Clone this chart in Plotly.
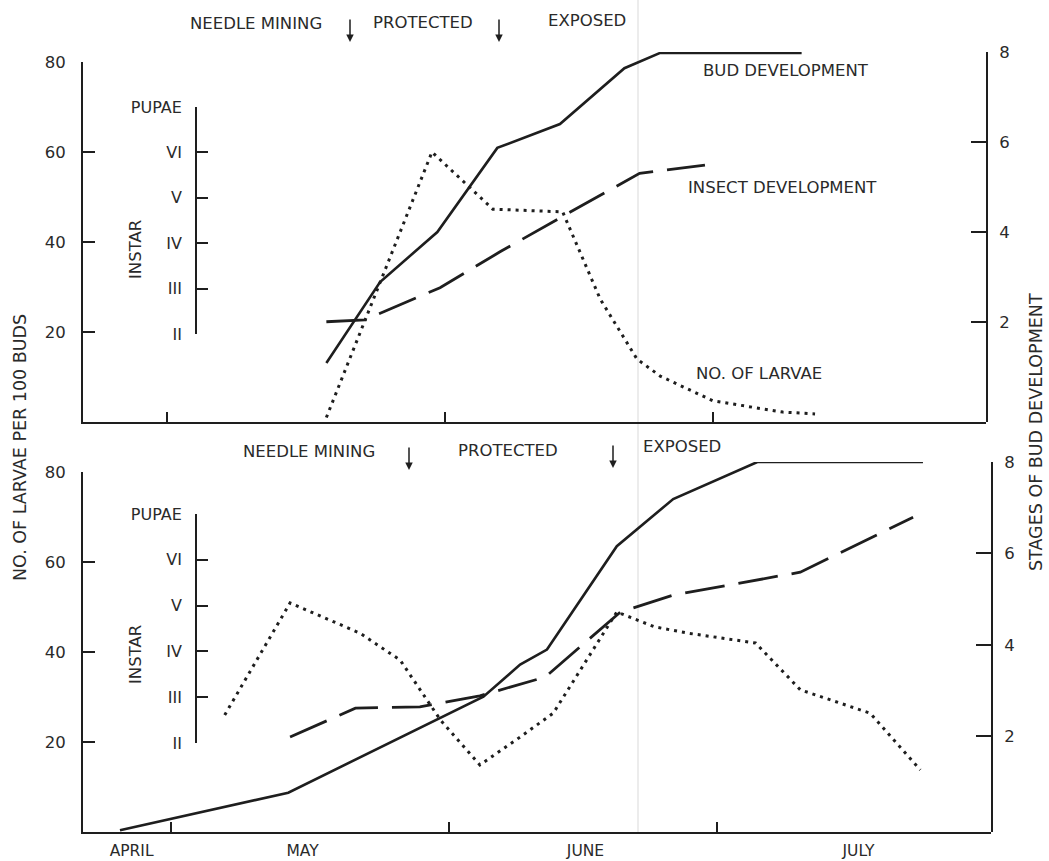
import plotly.graph_objects as go

W, H = 1049, 861
def fx(px): return px / W
def fy(py): return 1 - py / H

# ---------------- data (x = days from May 1) ----------------
# Top panel
top_bud_days = [17.8, 23.8, 30.2, 36.9, 43.9, 51.1, 55.1, 70.9]
top_bud_stage = [1.09, 2.89, 4.0, 5.87, 6.4, 7.64, 7.98, 7.98]
top_insect_days = [17.8, 22.1, 30.5, 37.2, 45.0, 52.8, 60.1]
top_insect_instar = [2.27, 2.31, 3.02, 3.81, 4.68, 5.54, 5.72]
top_larvae_days = [17.8, 29.6, 36.4, 44.2, 48.4, 52.5, 55.1, 61.0, 68.8, 72.4]
top_larvae = [1.0, 60.0, 47.3, 46.7, 27.3, 14.0, 10.2, 4.7, 2.2, 1.8]

# Bottom panel
bot_bud_days = [-5.7, 13.1, 34.9, 39.0, 42.0, 49.8, 56.1, 65.5, 84.0]
bot_bud_stage = [-0.05, 0.77, 2.87, 3.57, 3.9, 6.16, 7.19, 8.0, 8.0]
bot_insect_days = [13.3, 19.4, 20.6, 27.8, 34.5, 41.8, 50.2, 56.1, 70.3, 82.9]
bot_insect_instar = [2.13, 2.66, 2.76, 2.79, 3.03, 3.44, 4.86, 5.23, 5.73, 6.93]
bot_larvae_days = [6.0, 13.3, 21.1, 25.6, 30.1, 34.5, 39.0, 42.7, 49.8, 54.0, 57.7, 65.3, 70.3, 78.1, 83.7]
bot_larvae = [26.0, 50.9, 44.2, 38.2, 24.9, 14.9, 21.1, 26.4, 48.9, 45.6, 44.2, 42.0, 31.6, 26.4, 13.8]

larvae_ticks = [20, 40, 60, 80]
stage_ticks = [2, 4, 6, 8]
instar_vals = [2, 3, 4, 5, 6, 7]
instar_text = ["II", "III", "IV", "V", "VI", "PUPAE"]
month_boundaries = [0, 31, 61]
month_label_pos = [-4.4, 14.7, 46.3, 76.8]
month_labels = ["APRIL", "MAY", "JUNE", "JULY"]

INK = "#1e1e1e"
TXT = "#2a2a2a"
FONT = "DejaVu Sans"
FS = 16.5
SOLID = dict(color=INK, width=2.6)
DASHED = dict(color=INK, width=2.8, dash="40px,14px")
DOTTED = dict(color=INK, width=3, dash="3px,5px")

fig = go.Figure()
# top panel
fig.add_trace(go.Scatter(x=top_larvae_days, y=top_larvae, mode="lines", line=DOTTED, xaxis="x", yaxis="y"))
fig.add_trace(go.Scatter(x=top_bud_days, y=top_bud_stage, mode="lines", line=SOLID, xaxis="x", yaxis="y2"))
fig.add_trace(go.Scatter(x=top_insect_days, y=top_insect_instar, mode="lines", line=DASHED, xaxis="x", yaxis="y3"))
# bottom panel
fig.add_trace(go.Scatter(x=bot_larvae_days, y=bot_larvae, mode="lines", line=DOTTED, xaxis="x2", yaxis="y4"))
fig.add_trace(go.Scatter(x=bot_bud_days, y=bot_bud_stage, mode="lines", line=SOLID, xaxis="x2", yaxis="y5",
                         cliponaxis=False))
fig.add_trace(go.Scatter(x=bot_insect_days, y=bot_insect_instar, mode="lines", line=DASHED, xaxis="x2", yaxis="y6"))

axcommon = dict(showgrid=False, zeroline=False, showline=True, linecolor=INK, linewidth=1.8,
                tickcolor=INK, tickwidth=1.8, automargin=False,
                tickfont=dict(family=FONT, size=FS, color=TXT))
instar_font = dict(family=FONT, size=16, color=TXT)

layout = dict(
    width=W, height=H, margin=dict(l=0, r=0, t=0, b=0), autosize=False,
    paper_bgcolor="white", plot_bgcolor="rgba(0,0,0,0)", showlegend=False,
    # top x
    xaxis=dict(axcommon, domain=[fx(83), fx(986)], range=[-9.39, 91.5], anchor="y",
               ticks="inside", ticklen=10, tickvals=month_boundaries, showticklabels=False),
    yaxis=dict(axcommon, domain=[fy(422), fy(62)], range=[0, 80], anchor="x",
               ticks="inside", ticklen=12, tickvals=larvae_ticks, ticklabelstandoff=12),
    yaxis2=dict(axcommon, domain=[fy(422), fy(52)], range=[-0.22, 8], anchor="x", side="right",
                ticks="inside", ticklen=15, tickvals=stage_ticks, ticklabelstandoff=8),
    yaxis3=dict(axcommon, domain=[fy(334), fy(107)], range=[2, 7], anchor="free", position=fx(196),
                ticks="inside", ticklen=11, tickvals=instar_vals, ticktext=instar_text,
                ticklabelstandoff=10, tickfont=instar_font),
    # bottom x
    xaxis2=dict(axcommon, domain=[fx(83), fx(991)], range=[-9.83, 91.6], anchor="y4",
                ticks="", tickvals=month_label_pos, ticktext=month_labels, ticklabelstandoff=3,
                tickfont=dict(family=FONT, size=15.5, color=TXT),
                minor=dict(tickmode="array", tickvals=month_boundaries, ticks="inside", ticklen=10,
                           tickcolor=INK, tickwidth=1.8)),
    yaxis4=dict(axcommon, domain=[fy(832), fy(472)], range=[0, 80], anchor="x2",
                ticks="inside", ticklen=12, tickvals=larvae_ticks, ticklabelstandoff=12),
    yaxis5=dict(axcommon, domain=[fy(832), fy(462)], range=[-0.09, 8], anchor="x2", side="right",
                ticks="inside", ticklen=15, tickvals=stage_ticks, ticklabelstandoff=8),
    yaxis6=dict(axcommon, domain=[fy(743), fy(514)], range=[2, 7], anchor="free", position=fx(196),
                ticks="inside", ticklen=11, tickvals=instar_vals, ticktext=instar_text,
                ticklabelstandoff=10, tickfont=instar_font),
)
fig.update_layout(**layout)

def txt(s, px, py, size=FS, angle=0):
    fig.add_annotation(text=s, x=fx(px), y=fy(py), xref="paper", yref="paper",
                       xanchor="center", yanchor="middle", showarrow=False, textangle=angle,
                       font=dict(family=FONT, size=size, color=TXT))

def arrow(px, py_head, length=24):
    fig.add_annotation(text="", x=fx(px), y=fy(py_head), xref="paper", yref="paper",
                       showarrow=True, ax=0, ay=-length, arrowhead=2, arrowsize=1,
                       arrowwidth=1.5, arrowcolor=INK)

# top panel text
txt("NEEDLE MINING", 256, 24)
txt("PROTECTED", 423, 22)
txt("EXPOSED", 587, 20)
arrow(350, 42)
arrow(499, 42)
txt("BUD DEVELOPMENT", 786, 70)
txt("INSECT DEVELOPMENT", 782, 188)
txt("NO. OF LARVAE", 759, 373)
txt("INSTAR", 135, 250, angle=-90)
# bottom panel text
txt("NEEDLE MINING", 309, 451)
txt("PROTECTED", 508, 450)
txt("EXPOSED", 682, 447)
arrow(409, 470)
arrow(613, 468)
txt("INSTAR", 135, 655, angle=-90)
# axis titles
txt("NO. OF LARVAE PER 100 BUDS", 20, 448, size=17.5, angle=-90)
txt("STAGES OF BUD DEVELOPMENT", 1036, 432, size=17.5, angle=-90)

# faint page fold line from the scan
fig.add_shape(type="line", xref="paper", yref="paper", x0=fx(638), x1=fx(638), y0=fy(0), y1=fy(832),
              line=dict(color="#e6e6e6", width=1.5), layer="below")

fig.write_html("out.html", config={"displayModeBar": False},
               post_script="document.body.style.margin='0';")
